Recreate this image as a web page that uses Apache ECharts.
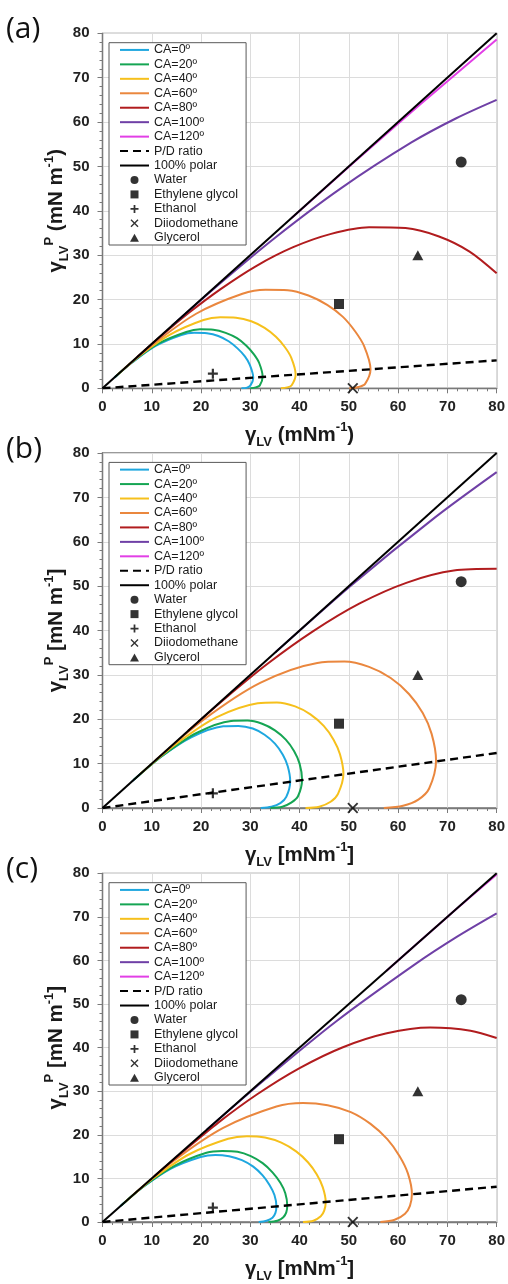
<!DOCTYPE html>
<html>
<head>
<meta charset="utf-8">
<script src="https://cdn.jsdelivr.net/npm/echarts@6/dist/echarts.min.js"></script>
<style>
  html, body { margin: 0; padding: 0; background: #fff; }
  #chart { width: 508px; height: 1284px; }
</style>
</head>
<body>
<div id="chart"></div>
<script>
// Wetting envelopes (γLV, γLV^P) for contact angles 0..120°, three substrates.
const caNames = ['CA=0º', 'CA=20º', 'CA=40º', 'CA=60º', 'CA=80º', 'CA=100º', 'CA=120º'];
const caColors = ['#1ea7df', '#15a553', '#f6c01c', '#ea873e', '#b11c1e', '#6f40a6', '#e23fe6'];

// Panel (a)
const a_CA0 = [[2.4,2.4],[6.0,5.8],[10.7,9.5],[16.0,12.0],[18.6,12.5],[21.2,12.4],[23.5,11.8],[25.6,10.6],[27.4,9.0],[28.9,7.2],[29.9,5.3],[30.6,2.4],[30.0,0.6],[29.2,0.1],[28.2,0]];
const a_CA20 = [[2.6,2.6],[6.4,6.2],[11.4,10.1],[17.0,12.7],[19.8,13.3],[22.5,13.2],[25.0,12.5],[27.3,11.3],[29.2,9.6],[30.7,7.7],[31.8,5.7],[32.5,2.6],[31.9,0.6],[31.1,0.2],[30.0,0]];
const a_CA40 = [[3.1,3.1],[7.7,7.5],[13.7,12.1],[20.5,15.4],[23.9,16.0],[27.1,15.9],[30.2,15.1],[32.9,13.6],[35.2,11.6],[37.0,9.3],[38.3,6.9],[39.2,3.1],[38.4,0.7],[37.5,0.2],[36.2,0]];
const a_CA60 = [[4.3,4.3],[10.7,10.3],[19.0,16.8],[28.4,21.3],[33.1,22.2],[37.6,22.1],[41.8,20.9],[45.6,18.8],[48.8,16.1],[51.3,12.8],[53.1,9.5],[54.4,4.3],[53.3,1.0],[52.0,0.3],[50.1,0]];
const a_CA80 = [[7.0,7.0],[11.7,11.6],[17.4,16.9],[23.9,22.3],[31.1,27.5],[38.7,31.8],[46.4,34.8],[54.1,36.3],[61.5,36.1],[68.3,34.2],[74.5,30.8],[80.0,25.9]];
const a_CA100 = [[14.1,14.1],[23.6,23.4],[35.1,34.0],[48.3,45.0],[62.7,55.4],[71.7,60.8],[80.0,65.0]];
const a_CA120 = [[38.4,38.4],[50.7,50.6],[64.4,63.9],[80.0,78.6]];
const a_PD = [[0,0],[80,6.3]];

// Panel (b)
const b_CA0 = [[6.0,6.0],[11.5,11.2],[18.0,15.9],[24.5,18.4],[27.6,18.5],[30.5,17.9],[32.9,16.5],[35.0,14.5],[36.6,12.0],[37.6,9.4],[38.1,6.0],[37.3,2.5],[36.1,1.1],[34.3,0.3],[32.1,0]];
const b_CA20 = [[6.4,6.4],[12.3,11.9],[19.1,16.9],[26.1,19.6],[29.4,19.7],[32.4,19.0],[35.0,17.5],[37.2,15.4],[38.9,12.8],[40.0,10.0],[40.5,6.4],[39.7,2.7],[38.3,1.2],[36.5,0.3],[34.1,0]];
const b_CA40 = [[7.7,7.7],[14.8,14.3],[23.1,20.4],[31.5,23.6],[35.4,23.8],[39.1,22.9],[42.2,21.1],[44.9,18.5],[46.9,15.4],[48.2,12.1],[48.9,7.7],[47.8,3.2],[46.3,1.4],[44.0,0.3],[41.2,0]];
const b_CA60 = [[10.7,10.7],[20.5,19.9],[32.0,28.2],[43.6,32.7],[49.1,33.0],[54.1,31.8],[58.5,29.3],[62.2,25.7],[65.0,21.4],[66.8,16.7],[67.7,10.7],[66.3,4.4],[64.1,1.9],[61.0,0.5],[57.1,0]];
const b_CA80 = [[17.4,17.4],[25.0,24.8],[33.5,32.5],[42.7,39.8],[52.2,46.1],[61.8,50.8],[71.3,53.5],[80.0,53.9]];
const b_CA100 = [[35.1,35.1],[50.4,50.1],[67.5,65.5],[80.0,75.7]];
const b_CA120 = [];
const b_PD = [[0,0],[80,12.4]];

// Panel (c)
const c_CA0 = [[3.6,3.6],[8.1,7.9],[13.8,12.2],[19.9,14.9],[22.9,15.4],[25.7,15.1],[28.3,14.2],[30.6,12.7],[32.5,10.7],[33.9,8.5],[34.9,6.2],[35.3,3.6],[35.1,2.1],[34.5,1.0],[33.3,0.3],[31.7,0]];
const c_CA20 = [[3.8,3.8],[8.6,8.4],[14.6,12.9],[21.1,15.9],[24.3,16.3],[27.4,16.1],[30.1,15.1],[32.5,13.5],[34.5,11.4],[36.1,9.0],[37.1,6.6],[37.5,3.8],[37.3,2.2],[36.7,1.1],[35.5,0.3],[33.7,0]];
const c_CA40 = [[4.6,4.6],[10.4,10.1],[17.7,15.6],[25.5,19.1],[29.3,19.7],[33.0,19.4],[36.3,18.2],[39.3,16.2],[41.7,13.7],[43.5,10.9],[44.7,8.0],[45.3,4.6],[45.0,2.6],[44.3,1.3],[42.8,0.3],[40.7,0]];
const c_CA60 = [[6.4,6.4],[14.4,14.0],[24.5,21.6],[35.3,26.5],[40.7,27.3],[45.7,26.8],[50.4,25.2],[54.4,22.5],[57.8,19.0],[60.3,15.1],[62.0,11.1],[62.8,6.4],[62.4,3.7],[61.4,1.9],[59.3,0.5],[56.4,0]];
const c_CA80 = [[10.5,10.5],[16.5,16.3],[23.5,22.8],[31.4,29.3],[40.0,35.3],[48.8,40.1],[57.7,43.3],[66.5,44.6],[74.7,43.9],[80.0,42.2]];
const c_CA100 = [[21.1,21.1],[33.2,32.9],[47.4,46.0],[63.4,59.1],[71.9,65.4],[80.0,70.8]];
const c_CA120 = [[57.6,57.6],[70.0,70.0],[80.0,79.7]];
const c_PD = [[0,0],[80,8.1]];

// 100% polar reference line
const polarLine = [[0,0],[80,80]];

// Test liquids [γLV, γLV^P]
const liquidNames = ['Water', 'Ethylene glycol', 'Ethanol', 'Diiodomethane', 'Glycerol'];
const water = [[72.8, 51.0]];
const ethyleneGlycol = [[48.0, 19.0]];
const ethanol = [[22.4, 3.3]];
const diiodomethane = [[50.8, 0.0]];
const glycerol = [[64.0, 30.0]];

const panelLabels = ['(a)', '(b)', '(c)'];
const xTitles = ['(mNm', '[mNm', '[mNm'];
const xTitleEnds = [')', ']', ']'];
const yTitles = [' (mN m', ' [mN m', ' [mN m'];

const panels = [
  [a_CA0, a_CA20, a_CA40, a_CA60, a_CA80, a_CA100, a_CA120, a_PD],
  [b_CA0, b_CA20, b_CA40, b_CA60, b_CA80, b_CA100, b_CA120, b_PD],
  [c_CA0, c_CA20, c_CA40, c_CA60, c_CA80, c_CA100, c_CA120, c_PD]
];

const FONT = '"Liberation Sans", Arial, sans-serif';
const tops = [33.3, 453, 873.3];
const gridH = 355;

const markerDefs = [
  { name: 'Water', data: water, symbol: 'circle', size: 11 },
  { name: 'Ethylene glycol', data: ethyleneGlycol, symbol: 'path://M0,0H10V10H0Z', size: 10 },
  { name: 'Ethanol', data: ethanol, symbol: 'path://M3.9,0H6.1V3.9H10V6.1H6.1V10H3.9V6.1H0V3.9H3.9Z', size: 10 },
  { name: 'Diiodomethane', data: diiodomethane, symbol: 'path://M1.2,0L5,3.8L8.8,0L10,1.2L6.2,5L10,8.8L8.8,10L5,6.2L1.2,10L0,8.8L3.8,5L0,1.2Z', size: 11 },
  { name: 'Glycerol', data: glycerol, symbol: 'path://M5,0L10,9H0Z', size: [11, 10] }
];

const richTitle = {
  g: { fontSize: 20.5, fontWeight: 'bold', fontFamily: FONT, color: '#1a1a1a', lineHeight: 28 },
  n: { fontSize: 20.5, fontWeight: 'bold', fontFamily: FONT, color: '#1a1a1a', lineHeight: 28 },
  s: { fontSize: 13, fontWeight: 'bold', fontFamily: FONT, color: '#1a1a1a', lineHeight: 14, verticalAlign: 'bottom' },
  p: { fontSize: 13, fontWeight: 'bold', fontFamily: FONT, color: '#1a1a1a', lineHeight: 14, verticalAlign: 'top' }
};

const grids = [], xAxes = [], yAxes = [], series = [], legends = [], graphics = [];
// line entries hide the point marker so only the stroke shows in the key
const legendData = caNames.concat(['P/D ratio', '100% polar'])
  .map(n => ({ name: n, itemStyle: { opacity: 0 } }))
  .concat(liquidNames.map(n => ({ name: n })));

tops.forEach((top, i) => {
  grids.push({ left: 102.5, top: top, width: 395, height: gridH, show: true,
    borderColor: '#7a7a7a', borderWidth: 1.3, backgroundColor: 'transparent' });
  const axisCommon = {
    type: 'value', min: 0, max: 80, interval: 10, gridIndex: i,
    axisLine: { show: true, onZero: false, lineStyle: { color: '#7a7a7a', width: 1.3 } },
    axisTick: { show: true, length: 5, lineStyle: { color: '#7a7a7a', width: 1 } },
    minorTick: { show: true, splitNumber: 5, length: 3, lineStyle: { color: '#7a7a7a', width: 1 } },
    splitLine: { show: true, lineStyle: { color: '#dcdcdc', width: 1 } },
    axisLabel: { fontSize: 15, fontWeight: 'bold', fontFamily: FONT, color: '#222' },
    nameLocation: 'middle',
    nameMoveOverlap: false,
    nameTextStyle: { rich: richTitle }
  };
  xAxes.push(Object.assign({}, axisCommon, {
    name: '{g|γ}{s|LV}{n| ' + xTitles[i] + '}{p|-1}{n|' + xTitleEnds[i] + '}',
    nameGap: 33,
    axisLabel: Object.assign({}, axisCommon.axisLabel, { margin: 11 })
  }));
  yAxes.push(Object.assign({}, axisCommon, {
    name: '{g|γ}{s|LV}{p|P}{n|' + yTitles[i] + '}{p|-1}{n|' + xTitleEnds[i] + '}',
    nameGap: 32, nameRotate: 90,
    axisLabel: Object.assign({}, axisCommon.axisLabel, { margin: 13 })
  }));

  const curves = panels[i];
  caNames.forEach((nm, k) => {
    series.push({
      name: nm, type: 'line', xAxisIndex: i, yAxisIndex: i,
      data: curves[k], smooth: 0.3, symbol: 'none',
      lineStyle: { color: caColors[k], width: 2 }, itemStyle: { color: caColors[k] },
      z: 2 + k * 0.01
    });
  });
  series.push({
    name: 'P/D ratio', type: 'line', xAxisIndex: i, yAxisIndex: i,
    data: curves[7], symbol: 'none',
    lineStyle: { color: '#000', width: 2.4, type: [8, 5] }, itemStyle: { color: '#000' }, z: 3
  });
  series.push({
    name: '100% polar', type: 'line', xAxisIndex: i, yAxisIndex: i,
    data: polarLine, symbol: 'none',
    lineStyle: { color: '#000', width: 2 }, itemStyle: { color: '#000' }, z: 3
  });
  markerDefs.forEach(m => {
    series.push({
      name: m.name, type: 'scatter', xAxisIndex: i, yAxisIndex: i,
      data: m.data, symbol: m.symbol, symbolSize: m.size, clip: false,
      itemStyle: { color: '#000' }, z: 4
    });
  });

  legends.push({
    data: legendData, orient: 'vertical', left: 109, top: top + 9.4,
    itemWidth: 29, itemHeight: 8, itemGap: 0, padding: [0, 8, 0, 10],
    backgroundColor: '#fff', borderColor: '#595959', borderWidth: 1,
    selectedMode: false,
    textStyle: { fontSize: 12.5, lineHeight: 14.45, color: '#1a1a1a', fontFamily: FONT }
  });

  graphics.push({
    type: 'text', left: 6, top: top - 19,
    style: { text: panelLabels[i], font: '30px "Open Sans", Lato, sans-serif', fill: '#111' }
  });
});

const chart = echarts.init(document.getElementById('chart'), null, { renderer: 'canvas' });
chart.setOption({
  animation: false,
  backgroundColor: '#fff',
  grid: grids, xAxis: xAxes, yAxis: yAxes,
  legend: legends, series: series, graphic: graphics
});
</script>
</body>
</html>
